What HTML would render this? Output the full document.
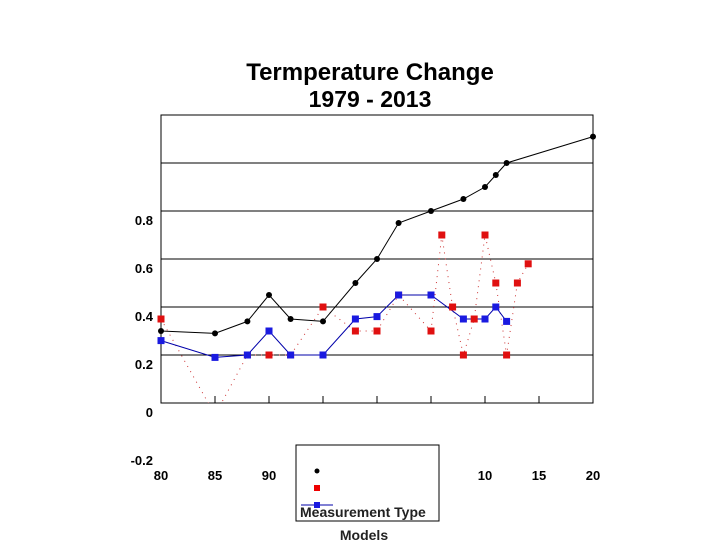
<!DOCTYPE html>
<html><head><meta charset="utf-8"><style>
body{margin:0;background:#fff;width:720px;height:540px;overflow:hidden;font-family:"Liberation Sans",Arial,sans-serif}
</style></head><body>
<svg id="chart" width="720" height="540">
<text x="370" y="80" text-anchor="middle" font-size="24" font-weight="bold">Termperature Change</text>
<text x="370" y="107" text-anchor="middle" font-size="23" font-weight="bold">1979 - 2013</text>
<defs><clipPath id="pc"><rect x="150" y="110" width="455" height="293"/></clipPath></defs>
<g id="grid"></g><g id="axes"></g><g id="series" clip-path="url(#pc)"></g>
<g>
<rect x="296" y="445" width="143" height="76" fill="#fff" stroke="#000" stroke-width="1"/>
<circle cx="317" cy="471" r="2.5" fill="#000"/>
<rect x="314" y="485" width="6" height="6" fill="#e00"/>
<line x1="301" y1="505" x2="333" y2="505" stroke="#00a"/>
<rect x="314" y="502" width="6" height="6" fill="#1a1ae0"/>
<text x="300" y="517" font-size="14" font-weight="bold" fill="#222">Measurement Type</text>
<text x="364" y="540" text-anchor="middle" font-size="14" font-weight="bold" fill="#222">Models</text>
</g>
</svg>
<script>
const blackYears=[1980,1985,1988,1990,1992,1995,1998,2000,2002,2005,2008,2010,2011,2012,2020];
const blackVals=[0.30,0.29,0.34,0.45,0.35,0.34,0.50,0.60,0.75,0.80,0.85,0.90,0.95,1.00,1.11];
const blueYears=[1980,1985,1988,1990,1992,1995,1998,2000,2002,2005,2008,2010,2011,2012];
const blueVals=[0.26,0.19,0.20,0.30,0.20,0.20,0.35,0.36,0.45,0.45,0.35,0.35,0.40,0.34];
const redYears=[1980,1985,1988,1990,1992,1995,1998,2000,2002,2005,2006,2007,2008,2009,2010,2011,2012,2013,2014];
const redVals=[0.35,-0.05,0.20,0.20,0.20,0.40,0.30,0.30,0.45,0.30,0.70,0.40,0.20,0.35,0.70,0.50,0.20,0.50,0.58];
const xTickLabels=["80","85","90","95","00","05","10","15","20"];
const yTickLabels=["0.8","0.6","0.4","0.2","0","-0.2"];
const yTickVals=[0.8,0.6,0.4,0.2,0,-0.2];
const gridVals=[0.2,0.4,0.6,0.8,1.0];
const X=y=>161+(y-1980)*10.8;
const Y=v=>403-v*240;
const NS="http://www.w3.org/2000/svg";
function mk(tag,attrs,parent){const e=document.createElementNS(NS,tag);for(const k in attrs)e.setAttribute(k,attrs[k]);parent.appendChild(e);return e;}
const grid=document.getElementById('grid'),ser=document.getElementById('series'),ax=document.getElementById('axes');
gridVals.forEach(v=>{const l=mk('line',{x1:161,x2:593,y1:Y(v),y2:Y(v),stroke:'#000','stroke-width':1},grid);

});
const fr=mk('rect',{x:161,y:115,width:432,height:288,fill:'none',stroke:'#000','stroke-width':1},ax);


xTickLabels.forEach((t,i)=>{const x=161+i*54;
const tk=mk('line',{x1:x,x2:x,y1:396,y2:403,stroke:'#000'},ax);


const tx=mk('text',{x:x,y:480,'text-anchor':'middle','font-size':13,'font-weight':'bold'},ax);tx.textContent=t;

});
yTickLabels.forEach((t,i)=>{const tx=mk('text',{x:153,y:Y(yTickVals[i])+14,'text-anchor':'end','font-size':13,'font-weight':'bold'},ax);tx.textContent=t;

});
function pts(ys,vs){return ys.map((y,i)=>X(y)+','+Y(vs[i])).join(' ');}
const rl=mk('polyline',{points:pts(redYears,redVals),fill:'none',stroke:'#c33','stroke-width':1,'stroke-dasharray':'1,5'},ser);


const bl=mk('polyline',{points:pts(blueYears,blueVals),fill:'none',stroke:'#00a','stroke-width':1},ser);


const kl=mk('polyline',{points:pts(blackYears,blackVals),fill:'none',stroke:'#000','stroke-width':1},ser);


redYears.forEach((y,i)=>{if(redVals[i]<0)return;const r=mk('rect',{x:X(y)-3.5,y:Y(redVals[i])-3.5,width:7,height:7,fill:'#e01010'},ser);

});
blueYears.forEach((y,i)=>{const r=mk('rect',{x:X(y)-3.5,y:Y(blueVals[i])-3.5,width:7,height:7,fill:'#1a1ae0'},ser);

});
blackYears.forEach((y,i)=>{const c=mk('circle',{cx:X(y),cy:Y(blackVals[i]),r:3,fill:'#000'},ser);

});
</script>
</body></html>
